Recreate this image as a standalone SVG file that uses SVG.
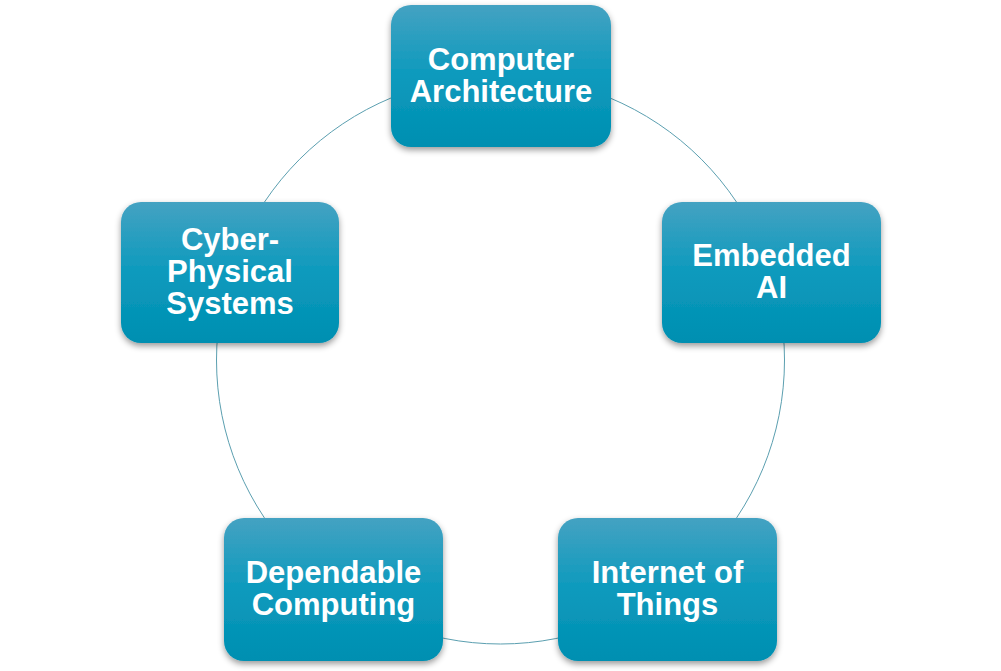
<svg xmlns="http://www.w3.org/2000/svg" width="1001" height="671" viewBox="0 0 1001 671">
  <defs>
    <linearGradient id="g" x1="0" y1="0" x2="0" y2="1">
      <stop offset="0" stop-color="#44a2c2"/>
      <stop offset="0.5" stop-color="#0c9abd"/>
      <stop offset="1" stop-color="#008fb1"/>
    </linearGradient>
    <filter id="sh" x="-10%" y="-10%" width="120%" height="125%">
      <feDropShadow dx="0" dy="3" stdDeviation="3" flood-color="#000" flood-opacity="0.4"/>
    </filter>
  </defs>
  <style>
    .box { fill: url(#g); filter: url(#sh); }
    .lbl { font-family: "Liberation Sans", Arial, sans-serif; font-weight: bold; font-size: 31px; fill: #ffffff; text-anchor: middle; }
    .ring { fill: none; stroke: #5b9fb0; stroke-width: 1; }
  </style>
  <rect width="1001" height="671" fill="#ffffff"/>
  <g id="connectors">
    <circle class="ring" cx="500.5" cy="360" r="284"/>
  </g>
  <g id="node-computer-architecture">
    <rect class="box" x="391" y="5" width="220" height="142" rx="20"/>
    <text class="lbl" x="501" y="70">Computer</text>
    <text class="lbl" x="501" y="102">Architecture</text>
  </g>
  <g id="node-embedded-ai">
    <rect class="box" x="662" y="202" width="219" height="141" rx="20"/>
    <text class="lbl" x="771.5" y="266">Embedded</text>
    <text class="lbl" x="771.5" y="298">AI</text>
  </g>
  <g id="node-internet-of-things">
    <rect class="box" x="558" y="518" width="219" height="143" rx="20"/>
    <text class="lbl" x="667.5" y="583">Internet of</text>
    <text class="lbl" x="667.5" y="615">Things</text>
  </g>
  <g id="node-dependable-computing">
    <rect class="box" x="224" y="518" width="219" height="143" rx="20"/>
    <text class="lbl" x="333.5" y="583">Dependable</text>
    <text class="lbl" x="333.5" y="615">Computing</text>
  </g>
  <g id="node-cyber-physical-systems">
    <rect class="box" x="121" y="202" width="218" height="141" rx="20"/>
    <text class="lbl" x="230" y="250">Cyber-</text>
    <text class="lbl" x="230" y="282">Physical</text>
    <text class="lbl" x="230" y="314">Systems</text>
  </g>
</svg>
